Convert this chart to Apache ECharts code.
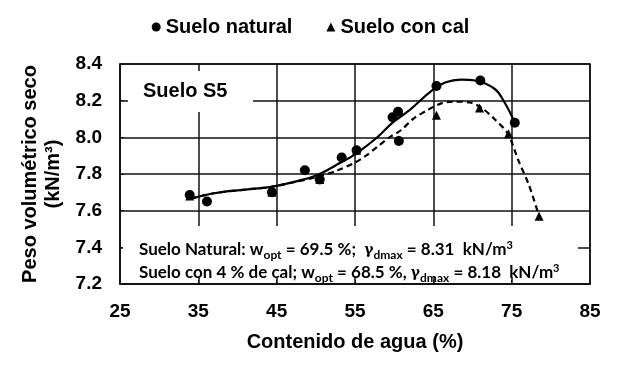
<!DOCTYPE html>
<html><head><meta charset="utf-8">
<script src="https://cdn.jsdelivr.net/npm/echarts@6/dist/echarts.min.js"></script>
<style>html,body{margin:0;padding:0;background:#fff}#c{width:621px;height:370px}</style>
</head><body><div id="c"></div>
<script>
// Measured points
var naturalX = [33.9, 36.1, 44.4, 48.6, 50.5, 53.3, 55.2, 59.8, 60.5, 60.6, 65.4, 71.0, 75.4];
var naturalY = [7.685, 7.65, 7.70, 7.82, 7.77, 7.89, 7.93, 8.11, 8.14, 7.98, 8.28, 8.31, 8.08];
var calX = [33.9, 44.4, 50.5, 55.2, 65.4, 70.9, 74.6, 78.5];
var calY = [7.68, 7.70, 7.77, 7.93, 8.12, 8.16, 8.02, 7.57];
// Fitted curves
var natCurveX = [34, 37, 41, 44.3, 47.5, 50.2, 53.3, 55.1, 57.7, 59.8, 62, 64.8, 66.6, 68.5, 70.3, 72.8, 74.1, 75.4];
var natCurveY = [7.665, 7.695, 7.715, 7.73, 7.76, 7.795, 7.865, 7.91, 7.995, 8.08, 8.15, 8.255, 8.30, 8.315, 8.31, 8.265, 8.19, 8.08];
var calCurveX = [34, 37, 41, 44.3, 47.5, 50.2, 52.8, 54.9, 56.4, 57.9, 59.4, 60.9, 62.4, 64.3, 66, 67.5, 69.7, 71.2, 72.8, 74.5, 75.9, 77.2, 78.5];
var calCurveY = [7.665, 7.695, 7.715, 7.73, 7.758, 7.785, 7.82, 7.86, 7.90, 7.95, 8.0, 8.04, 8.10, 8.15, 8.185, 8.195, 8.19, 8.16, 8.10, 8.02, 7.87, 7.74, 7.57];
var legendNames = ['Suelo natural', 'Suelo con cal'];
var xTitle = 'Contenido de agua (%)';
var yTitle = 'Peso volumétrico seco\n(kN/m³)';

function zip(a, b) { return a.map(function (v, i) { return [v, b[i]]; }); }

var chart = echarts.init(document.getElementById('c'));
var F = 'Liberation Sans, Arial, sans-serif';
var C = 'Lato, Open Sans, sans-serif';
var K = '#000';
var rich = {
  b: { fontFamily: C, fontWeight: 'bold', fontSize: 17, color: K },
  sub: { fontFamily: C, fontWeight: 'bold', fontSize: 12, color: K, padding: [10, 0, 0, 0] },
  sup: { fontFamily: C, fontWeight: 'bold', fontSize: 11, color: K, padding: [0, 0, 9, 0] },
  g: { fontFamily: 'DejaVu Serif, serif', fontWeight: 'bold', fontSize: 14, color: K }
};
chart.setOption({
  animation: false,
  backgroundColor: '#fff',
  grid: { left: 120, right: 31, top: 64, bottom: 86, show: true, borderColor: '#111', borderWidth: 1.5 },
  legend: {
    top: 12, left: 'center', itemGap: 34, itemWidth: 9, itemHeight: 9,
    textStyle: { fontFamily: F, fontWeight: 'bold', fontSize: 20, color: K },
    data: [{ name: legendNames[0], icon: 'circle' }, { name: legendNames[1], icon: 'triangle' }]
  },
  xAxis: {
    type: 'value', min: 25, max: 85, interval: 10,
    name: xTitle, nameLocation: 'middle', nameGap: 48,
    nameTextStyle: { fontFamily: F, fontWeight: 'bold', fontSize: 20, color: K },
    axisLine: { lineStyle: { color: '#111', width: 1.5 } },
    axisTick: { inside: true, length: 4, lineStyle: { color: '#111' } },
    axisLabel: { fontFamily: F, fontWeight: 'bold', fontSize: 19, color: K, margin: 18 },
    splitLine: { show: true, lineStyle: { color: '#111', width: 1.5 } }
  },
  yAxis: {
    type: 'value', min: 7.2, max: 8.4, interval: 0.2,
    name: yTitle, nameLocation: 'middle', nameGap: 46, nameRotate: 90,
    nameTextStyle: { fontFamily: F, fontWeight: 'bold', fontSize: 20, color: K, lineHeight: 23 },
    axisLine: { lineStyle: { color: '#111', width: 1.5 } },
    axisTick: { inside: true, length: 4, lineStyle: { color: '#111' } },
    axisLabel: { fontFamily: F, fontWeight: 'bold', fontSize: 19, color: K, margin: 18, formatter: function (v) { return v.toFixed(1); } },
    splitLine: { show: true, lineStyle: { color: '#111', width: 1.5 } }
  },
  graphic: [
    { type: 'rect', z: 1, shape: { x: 128, y: 71, width: 125, height: 41 }, style: { fill: '#fff' } },
    { type: 'text', z: 1, x: 143, y: 91, style: { text: 'Suelo S5', fontFamily: F, fontWeight: 'bold', fontSize: 20, fill: K, verticalAlign: 'middle' } },
    { type: 'rect', z: 1, shape: { x: 123, y: 226, width: 455, height: 51 }, style: { fill: '#fff' } },
    { type: 'text', z: 1, x: 139, y: 250, style: { verticalAlign: 'middle', rich: rich,
      text: '{b|Suelo Natural: w}{sub|opt}{b| = 69.5 %;  }{g|γ}{sub|dmax}{b| = 8.31  kN/m}{sup|3}' } },
    { type: 'text', z: 1, x: 139, y: 273, style: { verticalAlign: 'middle', rich: rich,
      text: '{b|Suelo con 4 % de cal; w}{sub|opt}{b| = 68.5 %, }{g|γ}{sub|dmax}{b| = 8.18  kN/m}{sup|3}' } }
  ],
  series: [
    { type: 'line', data: zip(natCurveX, natCurveY), smooth: 0.4, symbol: 'none', silent: true,
      lineStyle: { color: K, width: 2.2 }, z: 3 },
    { type: 'line', data: zip(calCurveX, calCurveY), smooth: 0.3, symbol: 'none', silent: true,
      lineStyle: { color: K, width: 2.2, type: [6, 4] }, z: 3 },
    { name: legendNames[1], type: 'scatter', data: zip(calX, calY), symbol: 'triangle', symbolSize: 9,
      itemStyle: { color: K, opacity: 1 }, z: 4 },
    { name: legendNames[0], type: 'scatter', data: zip(naturalX, naturalY), symbol: 'circle', symbolSize: 10,
      itemStyle: { color: K, opacity: 1 }, z: 5 }
  ]
});
</script></body></html>
